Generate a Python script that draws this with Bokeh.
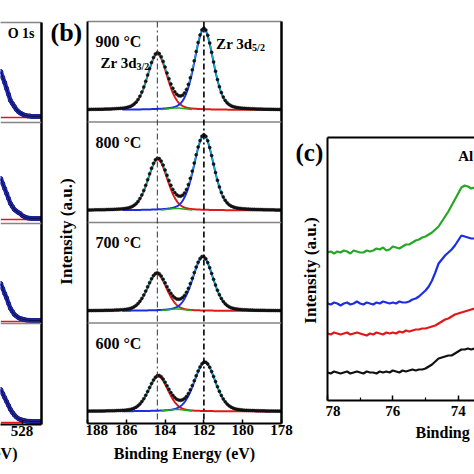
import numpy as np
from bokeh.plotting import figure
from bokeh.models import Range1d, LinearAxis, FixedTicker, Span, Label, Title
from bokeh.layouts import row, column
from bokeh.embed import file_html
from bokeh.resources import INLINE

FONT = "Liberation Serif"

# ---------------- Panel (a): O 1s (only the right-hand tail is visible) ----------------
o1s_energy = [529.1, 529.0, 528.9, 528.8, 528.7, 528.6, 528.5, 528.4, 528.3, 528.2,
              528.1, 528.0, 527.9, 527.8, 527.7, 527.6, 527.5, 527.4, 527.3, 527.2,
              527.1, 527.0]
o1s_600 = [32, 28, 24, 20, 16, 12, 9, 6.5, 4.5, 3, 2, 1.5, 1, 0.5, 0.3, 0.2, 0, 0, 0, 0, 0, 0]
o1s_700 = [37, 32, 27, 22.5, 17, 12, 9, 6, 4.5, 3, 2, 1.5, 1, 0.5, 0.3, 0.2, 0, 0, 0, 0, 0, 0]
o1s_800 = [40, 35, 30, 25, 20, 15, 12, 9, 7.5, 6, 5, 3, 2, 1, 0.5, 0.3, 0, 0, 0, 0, 0, 0]
o1s_900 = [45, 39, 34, 28, 22, 16, 13, 10, 7, 5, 3.5, 2.5, 1.5, 1, 0.5, 0.5, 0, 0, 0, 0, 0, 0]
o1s_series = [o1s_600, o1s_700, o1s_800, o1s_900]
o1s_ticks = [528, 530, 532, 534]

# ---------------- Panel (b): Zr 3d fitted peaks (600, 700, 800, 900 °C) ----------------
temps = ["600 °C", "700 °C", "800 °C", "900 °C"]
zr32_center = [184.35, 184.42, 184.38, 184.40]
zr32_height = [35, 37, 51, 56]
zr32_fwhm = [1.2, 1.2, 1.2, 1.2]
zr52_center = [181.95, 182.05, 182.00, 182.00]
zr52_height = [49, 54, 75, 81]
zr52_fwhm = [1.3, 1.25, 1.2, 1.15]
minor_center = [183.4, 183.4, 183.4, 183.4]
minor_height = [2.0, 2.0, 2.0, 2.0]
minor_fwhm = [1.1, 1.1, 1.1, 1.1]
lorentz_mix = 0.25
ref_lines = [184.4, 182.0]
zr_ticks = [178, 180, 182, 184, 186, 188]

# ---------------- Panel (c): Al 2p spectra ----------------
al_energy = [78.0, 77.9, 77.8, 77.7, 77.6, 77.5, 77.4, 77.3, 77.2, 77.1, 77.0,
             76.9, 76.8, 76.7, 76.6, 76.5, 76.4, 76.3, 76.2, 76.1, 76.0,
             75.9, 75.8, 75.7, 75.6, 75.5, 75.4, 75.3, 75.2, 75.1, 75.0,
             74.9, 74.8, 74.7, 74.6, 74.5, 74.4, 74.3, 74.2, 74.1, 74.0,
             73.9, 73.8, 73.7, 73.6, 73.5]
al_black = [28, 27, 29, 28, 27, 28, 29, 27, 28, 29, 28,
            27, 29, 28, 28, 27, 29, 28, 29, 28, 30,
            29, 28, 30, 29, 30, 31, 30, 31, 31, 32,
            34, 36, 39, 42, 43, 44, 45, 45, 47, 49,
            51, 51, 52, 51, 52]
al_red = [67, 66, 68, 67, 66, 67, 68, 66, 67, 68, 67,
          66, 65, 67, 66, 68, 67, 66, 68, 67, 68,
          67, 69, 68, 70, 69, 70, 71, 71, 72, 72,
          73, 74, 75, 77, 79, 81, 82, 84, 86, 87,
          88, 89, 90, 91, 92]
al_blue = [97, 96, 98, 97, 95, 97, 98, 96, 97, 99, 97,
           96, 98, 97, 96, 98, 97, 99, 98, 97, 98,
           97, 99, 98, 98, 99, 101, 102, 104, 107, 110,
           114, 120, 128, 137, 141, 145, 148, 151, 155, 160,
           165, 164, 163, 162, 162]
al_green = [148, 149, 147, 149, 148, 150, 149, 147, 150, 149, 148,
            148, 150, 149, 150, 152, 151, 153, 150, 151, 154,
            153, 152, 154, 156, 156, 158, 160, 161, 163, 164,
            166, 168, 171, 174, 179, 184, 189, 195, 201, 207,
            213, 215, 214, 212, 213]
al_ticks = [72, 74, 76, 78]
al_minor = [73, 75, 77]

BLACK = "#111111"
RED = "#e01818"
BLUE = "#1c2ee0"
GREEN = "#25a825"
CYAN = "#18b4b4"
GRAY = "#858585"


def make_fig(w, h, xr, yr, left, right, top, bottom):
    p = figure(width=w, height=h, x_range=xr, y_range=yr, output_backend="svg",
               toolbar_location=None, x_axis_location=None, y_axis_location=None,
               min_border_left=left, min_border_right=right,
               min_border_top=top, min_border_bottom=bottom)
    p.outline_line_color = None
    p.grid.visible = False
    p.background_fill_color = "white"
    p.border_fill_color = "white"
    return p


def add_axis(p, side, ticks=(), minor=(), color="black", width=2.0,
             tick_in=0, minor_in=0, label_size="15px", standoff=2):
    ax = LinearAxis(ticker=FixedTicker(ticks=list(ticks), minor_ticks=list(minor)))
    ax.axis_line_color = color
    ax.axis_line_width = width
    ax.major_tick_in = tick_in
    ax.major_tick_out = 0
    ax.minor_tick_in = minor_in
    ax.minor_tick_out = 0
    ax.major_tick_line_width = 1.5
    ax.minor_tick_line_width = 1.2
    ax.major_label_text_font = FONT
    ax.major_label_text_font_style = "bold"
    ax.major_label_text_font_size = label_size
    ax.major_label_text_color = "black"
    ax.major_label_standoff = standoff
    p.add_layout(ax, side)
    return ax


def add_label(p, x, y, text, size, align="left", baseline="middle", angle=0.0,
              x_offset=0, y_offset=0):
    p.add_layout(Label(x=x, y=y, text=text, text_font=FONT, text_font_style="bold",
                       text_font_size=f"{size}px", text_align=align,
                       text_baseline=baseline, angle=angle, text_color="black",
                       x_offset=x_offset, y_offset=y_offset))


def add_title(p, text, align, offset, size=16, standoff=4):
    p.add_layout(Title(text=text, align=align, offset=offset, text_font=FONT,
                       text_font_style="bold", text_font_size=f"{size}px",
                       text_color="black", standoff=standoff), "below")


def text_fig(w):
    # a blank strip whose frame is the whole canvas; y measured downward
    t = make_fig(w, 474, Range1d(0, w), Range1d(474, 0), 0, 0, 0, 0)
    return t


def pseudo_voigt(e, c, h, w):
    g = np.exp(-4 * np.log(2) * ((e - c) / w) ** 2)
    lz = 1.0 / (1.0 + 4 * ((e - c) / w) ** 2)
    return h * ((1 - lorentz_mix) * g + lorentz_mix * lz)


# ================= Figure A (x 0..46) =================
pa = make_fig(46, 474, Range1d(527 + 41 / 19.4, 527.0), Range1d(0, 402), 0, 5, 22, 50)
a_offsets = [3, 104, 206, 308]
for sep in [101, 201, 302]:
    pa.add_layout(Span(location=sep, dimension="width", line_color=GRAY, line_width=1.5))
for off, ser in zip(a_offsets, o1s_series):
    ys = [off + v for v in ser]
    pa.line([o1s_energy[0], o1s_energy[-1]], [off - 1, off - 1], line_color=RED, line_width=1.5)
    pa.line(o1s_energy, ys, line_color=BLUE, line_width=4.5)
    pa.scatter(o1s_energy, ys, size=4, marker="circle", fill_color="#2838c8", line_color="#1a1a80")
    pa.line(o1s_energy, ys, line_color="#101050", line_width=1.2)
add_axis(pa, "below", ticks=o1s_ticks, tick_in=4, standoff=1)
add_axis(pa, "right", color="black", width=2.5)
add_axis(pa, "above", color=GRAY, width=1.5)
add_title(pa, "Binding Energy (eV)", "right", 24, standoff=8)
add_label(pa, 527 + 7 / 19.4, 391, "O 1s", 14, align="right")

# ================= text strip for (b) (x 46..85) =================
tb = text_fig(39)
add_label(tb, 4, 32, "(b)", 26)
add_label(tb, 20, 231, "Intensity (a.u.)", 17, align="center", angle=np.pi / 2)

# ================= Figure B (x 85..294, frame 87..281) =================
pb = make_fig(209, 474, Range1d(188, 178), Range1d(0, 402), 2, 13, 21, 51)
b_offsets = [12, 112.5, 213, 313.5]
b_tops = [100.5, 201, 301.5, 402]
for sep in b_tops[:-1]:
    pb.add_layout(Span(location=sep, dimension="width", line_color=GRAY, line_width=1.5))
pb.add_layout(Span(location=ref_lines[0], dimension="height", line_color="#333333",
                   line_width=1.0, line_dash="6 3 2 3"))
pb.add_layout(Span(location=ref_lines[1], dimension="height", line_color="black",
                   line_width=1.6, line_dash="6 3 2 3"))

e_fine = np.round(np.arange(178.0, 188.0001, 0.02), 3)
e_data = np.round(np.arange(178.0, 188.0001, 0.1), 3)
for i in range(4):
    off = b_offsets[i]
    red = pseudo_voigt(e_fine, zr32_center[i], zr32_height[i], zr32_fwhm[i])
    blue = pseudo_voigt(e_fine, zr52_center[i], zr52_height[i], zr52_fwhm[i])
    green = pseudo_voigt(e_fine, minor_center[i], minor_height[i], minor_fwhm[i])
    env = red + blue + green
    bmask = e_fine <= 186.2
    gmask = (e_fine >= 182.6) & (e_fine <= 184.2)
    pb.line(e_fine, off + red, line_color=RED, line_width=2)
    pb.line(e_fine[bmask], off + blue[bmask], line_color=BLUE, line_width=2)
    pb.line(e_fine[gmask], off + green[gmask], line_color=GREEN, line_width=1.5)
    pb.line(e_fine, off + env, line_color=CYAN, line_width=1.3)
    env_d = (pseudo_voigt(e_data, zr32_center[i], zr32_height[i], zr32_fwhm[i])
             + pseudo_voigt(e_data, zr52_center[i], zr52_height[i], zr52_fwhm[i])
             + pseudo_voigt(e_data, minor_center[i], minor_height[i], minor_fwhm[i]))
    pb.scatter(e_data, off + env_d, size=3, marker="circle", fill_color=BLACK,
               line_color=BLACK, line_width=0.5)
    add_label(pb, 187.59, b_tops[i] - 20, temps[i], 16)

add_axis(pb, "below", ticks=zr_ticks, tick_in=4, standoff=1)
add_axis(pb, "left", color="black", width=2)
add_axis(pb, "right", color="black", width=2.5)
add_axis(pb, "above", color=GRAY, width=1.5)
add_title(pb, "Binding Energy (eV)", "center", 6, standoff=10)

add_label(pb, 187.33, 361, "Zr 3d", 15, baseline="alphabetic")
add_label(pb, 187.33, 361, "3/2", 10, baseline="alphabetic", x_offset=36, y_offset=-4)
add_label(pb, 181.37, 380, "Zr 3d", 15, baseline="alphabetic")
add_label(pb, 181.37, 380, "5/2", 10, baseline="alphabetic", x_offset=36, y_offset=-4)

# ================= text strip for (c) (x 294..325) =================
tc = text_fig(31)
add_label(tc, 1, 152, "(c)", 25)
add_label(tc, 16, 270, "Intensity (a.u.)", 17, align="center", angle=np.pi / 2)

# ================= Figure C (x 325..474, frame 327..474) =================
pc = make_fig(149, 474, Range1d(78.0, 73.5), Range1d(0, 263), 2, 0, 137, 74)
for ys, col in [(al_black, BLACK), (al_red, RED), (al_blue, BLUE), (al_green, GREEN)]:
    pc.line(al_energy, ys, line_color=col, line_width=2.2)
add_axis(pc, "below", ticks=al_ticks, minor=al_minor, tick_in=5, minor_in=3, standoff=5)
add_axis(pc, "left", color="black", width=2)
add_axis(pc, "above", color="black", width=2)
add_title(pc, "Binding Energy (eV)", "left", 88, standoff=6)
add_label(pc, 74.0, 245, "Al 2p", 15)

layout = row(column(pa), column(tb), column(pb), column(tc), column(pc))
open("out.html", "w").write(file_html(layout, INLINE))
